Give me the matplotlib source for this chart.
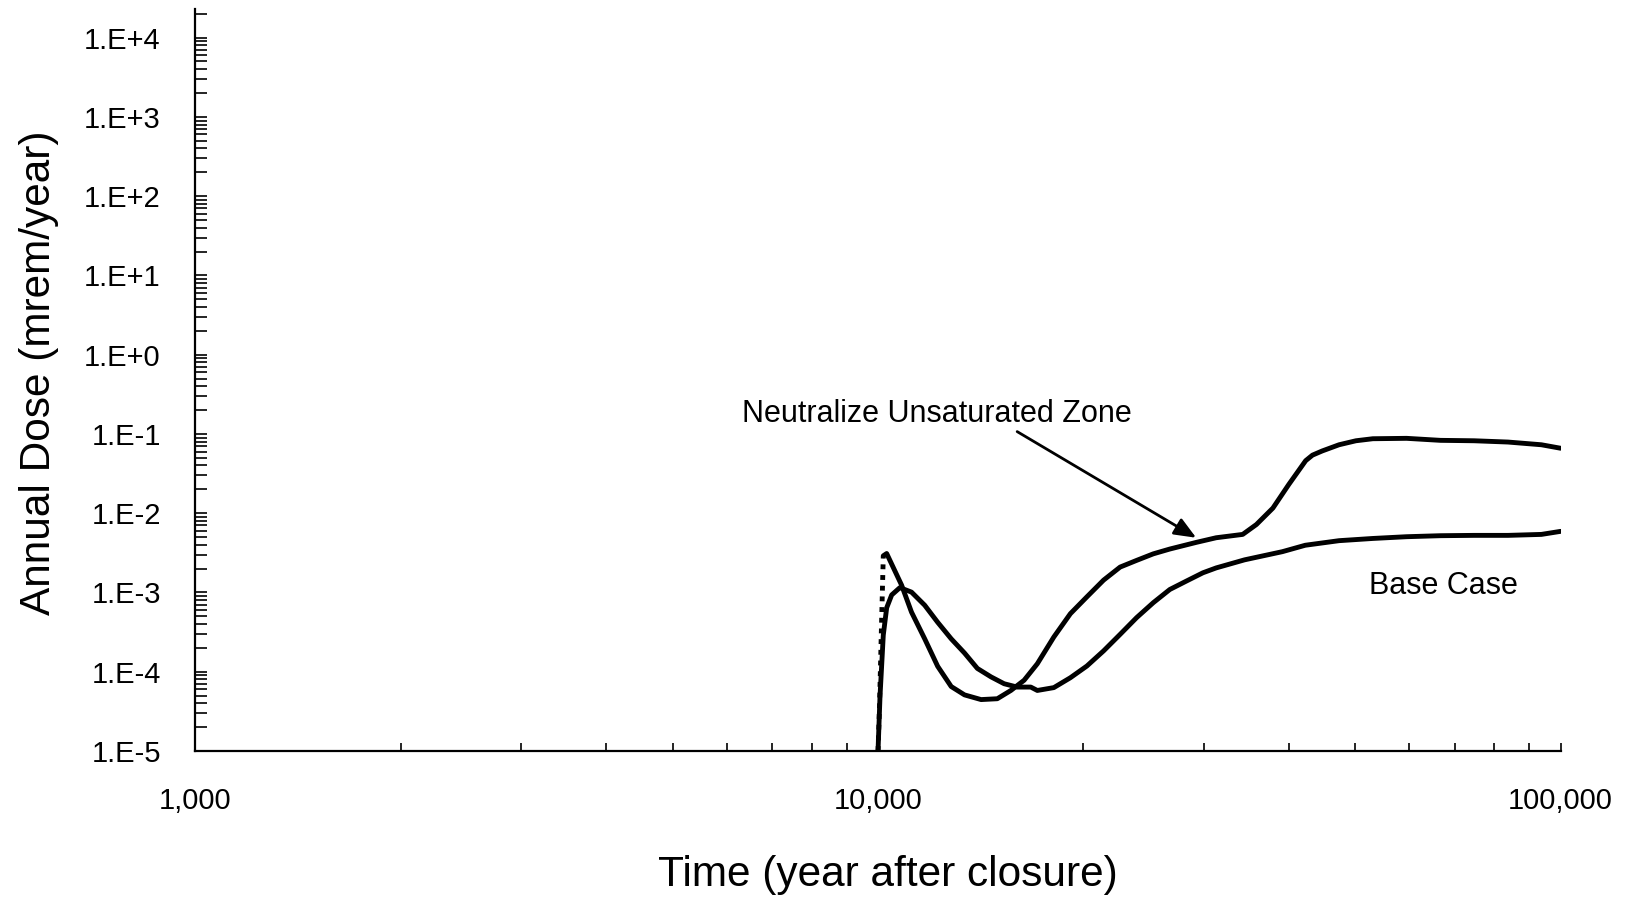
import numpy as np
import matplotlib
matplotlib.use("Agg")
import matplotlib.pyplot as plt
from matplotlib.ticker import LogLocator, FuncFormatter, NullFormatter

plt.rcParams['font.family'] = ['Liberation Sans', 'DejaVu Sans']

# Neutralize Unsaturated Zone (first points = dotted rise)
neutral_t = [10000, 10050, 10118, 10179, 10296, 10826, 11195, 11705, 12229,
             12800, 13388, 14157, 14953, 15655, 16368, 17115, 18095, 19135,
             20230, 21400, 22630, 23930, 25310, 26760, 29250, 31290, 34220,
             35840, 37890, 39970, 42320, 43300, 44750, 47360, 50140, 53080,
             59480, 66680, 74700, 83740, 93740, 100000]
neutral_dose = [1.0e-5, 3.7e-5, 3.9e-4, 2.9e-3, 3.1e-3, 1.24e-3, 5.65e-4,
                2.6e-4, 1.17e-4, 6.5e-5, 5.1e-5, 4.45e-5, 4.56e-5, 5.8e-5,
                7.8e-5, 1.26e-4, 2.74e-4, 5.4e-4, 8.8e-4, 1.43e-3, 2.09e-3,
                2.54e-3, 3.07e-3, 3.53e-3, 4.28e-3, 4.9e-3, 5.4e-3, 7.2e-3,
                1.16e-2, 2.3e-2, 4.6e-2, 5.4e-2, 6.1e-2, 7.3e-2, 8.2e-2,
                8.7e-2, 8.8e-2, 8.3e-2, 8.2e-2, 7.9e-2, 7.3e-2, 6.6e-2]
n_dotted = 4

# Base Case
base_t = [10000, 10067, 10179, 10296, 10471, 10765, 11195, 11705, 12229,
          12800, 13388, 13981, 14641, 15303, 15991, 16740, 17115, 18095,
          19135, 20230, 21400, 22630, 23930, 25310, 26760, 28290, 29920,
          31290, 34440, 39120, 42260, 47360, 53080, 59480, 66680, 74700,
          83740, 93740, 100000]
base_dose = [1.0e-5, 4.9e-5, 2.9e-4, 6.4e-4, 9.3e-4, 1.15e-3, 1.01e-3,
             6.9e-4, 4.2e-4, 2.6e-4, 1.72e-4, 1.1e-4, 8.6e-5, 7.05e-5,
             6.4e-5, 6.4e-5, 5.8e-5, 6.3e-5, 8.4e-5, 1.18e-4, 1.83e-4,
             2.96e-4, 4.82e-4, 7.43e-4, 1.09e-3, 1.39e-3, 1.77e-3, 2.04e-3,
             2.58e-3, 3.27e-3, 3.94e-3, 4.5e-3, 4.8e-3, 5.05e-3, 5.2e-3,
             5.25e-3, 5.25e-3, 5.4e-3, 5.9e-3]

fig = plt.figure(figsize=(16.29, 8.97), dpi=100)
ax = fig.add_axes([0.12, 0.1628, 0.838, 0.8272])

ax.plot(neutral_t[:n_dotted], neutral_dose[:n_dotted], color='black',
        lw=3.5, ls=(0, (1, 1.2)))
ax.plot(neutral_t[n_dotted - 1:], neutral_dose[n_dotted - 1:], color='black',
        lw=3.5, solid_capstyle='round', solid_joinstyle='round')
ax.plot(base_t, base_dose, color='black', lw=3.5, solid_capstyle='round',
        solid_joinstyle='round')

ax.set_xscale('log')
ax.set_yscale('log')
ax.set_xlim(1000, 100000)
ax.set_ylim(1e-5, 2.3e4)

for s in ['top', 'right']:
    ax.spines[s].set_visible(False)
for s in ['left', 'bottom']:
    ax.spines[s].set_linewidth(1.6)

ax.xaxis.set_major_locator(LogLocator(base=10, numticks=10))
ax.xaxis.set_minor_locator(LogLocator(base=10, subs=np.arange(2, 10), numticks=20))
ax.xaxis.set_major_formatter(FuncFormatter(lambda v, p: f"{int(round(v)):,}"))
ax.xaxis.set_minor_formatter(NullFormatter())

ax.yaxis.set_major_locator(LogLocator(base=10, numticks=20))
ax.yaxis.set_minor_locator(LogLocator(base=10, subs=np.arange(2, 10), numticks=40))
ax.yaxis.set_major_formatter(FuncFormatter(lambda v, p: "1.E%+d" % int(round(np.log10(v)))))
ax.yaxis.set_minor_formatter(NullFormatter())

ax.tick_params(axis='x', which='both', direction='in', length=5.5, width=1.2,
               pad=26, labelsize=21)
ax.tick_params(axis='y', which='both', direction='in', length=8.5, width=1.2,
               pad=25, labelsize=21)

ax.set_xlabel("Time (year after closure)", fontsize=30.5)
ax.set_ylabel("Annual Dose (mrem/year)", fontsize=30.5)
ax.xaxis.set_label_coords(0.507, -0.140)
ax.yaxis.set_label_coords(-0.100, 0.51)

ax.text(6320, 0.141, "Neutralize Unsaturated Zone", fontsize=22,
        ha='left', va='baseline')
ax.text(52360, 9.66e-4, "Base Case", fontsize=22, ha='left', va='baseline')
ax.annotate('', xy=(29250, 4.9e-3), xytext=(15990, 0.107),
            arrowprops=dict(arrowstyle='-|>,head_length=0.6,head_width=0.25',
                            color='black', lw=2, mutation_scale=22,
                            shrinkA=0, shrinkB=0))

fig.savefig("out.png", dpi=100)
